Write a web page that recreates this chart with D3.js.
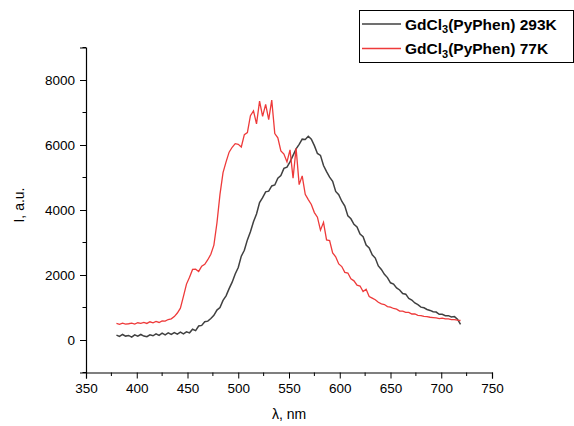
<!DOCTYPE html>
<html>
<head>
<meta charset="utf-8">
<script src="https://cdn.jsdelivr.net/npm/d3@7"></script>
<style>
  body { margin: 0; background: #fff; }
  text { font-family: Arial, "Liberation Sans", sans-serif; }
</style>
</head>
<body>
<svg id="chart" width="574" height="426"></svg>
<script>
// sampling grid of the spectra, nm
const wavelength = d3.range(380, 722, 3)

// emission at 293 K
const intensity293 = [
  150, 110, 170, 120, 140, 90, 160, 120, 170, 120,
  100, 160, 130, 190, 140, 210, 160, 220, 170, 230,
  180, 240, 190, 250, 220, 330, 290, 430, 450, 560,
  580, 660, 760, 920, 1000, 1220, 1360, 1580, 1780, 2030,
  2230, 2580, 2760, 3080, 3330, 3640, 3880, 4230, 4380, 4560,
  4580, 4740, 4770, 4980, 5060, 5280, 5320, 5480, 5680, 5880,
  6020, 6180, 6170, 6270, 6180, 5980, 5740, 5680, 5370, 5180,
  5010, 4880, 4570, 4470, 4270, 4120, 3820, 3730, 3560, 3480,
  3260, 3180, 2920, 2830, 2620, 2520, 2280, 2170, 2020, 1920,
  1760, 1720, 1600, 1540, 1430, 1410, 1280, 1230, 1140, 1090,
  1010, 990, 940, 910, 870, 860, 790, 790, 750, 750,
  710, 720, 640, 480
]

// emission at 77 K
const intensity77 = [
  510, 480, 520, 490, 500, 520, 490, 530, 510, 540,
  510, 560, 530, 570, 540, 590, 580, 630, 650, 720,
  830, 980, 1340, 1720, 1930, 2170, 2180, 2110, 2270, 2330,
  2470, 2640, 2920, 3600, 4480, 5150, 5480, 5780, 5930, 6040,
  6020, 5940, 6320, 6380, 6900, 7050, 6650, 7350, 6880, 7250,
  6780, 7380, 6350, 6220, 5820, 5720, 5480, 5850, 4980, 5900,
  4780, 5050, 4480, 4320, 4170, 3920, 3780, 3380, 3620, 3080,
  3060, 2680, 2560, 2340, 2260, 2080, 2060, 1880, 1820, 1690,
  1660, 1490, 1560, 1340, 1290, 1240, 1160, 1110, 1090, 1030,
  1010, 970, 950, 890, 890, 850, 850, 800, 800, 760,
  750, 730, 720, 700, 690, 680, 660, 670, 650, 650,
  630, 630, 610, 600
]

const xTicks = [350, 400, 450, 500, 550, 600, 650, 700, 750]
const yTicks = [0, 2000, 4000, 6000, 8000]
const seriesNames = ['293K', '77K']
const seriesColors = ['#404040', '#ee3a3a']

const svg = d3.select('#chart')
const x = d3.scaleLinear().domain([350, 750]).range([86, 492])
const y = d3.scaleLinear().domain([-1000, 9000]).range([372.5, 47.5])

// axes: outward ticks, minor ticks between majors
const xAxis = svg.append('g').attr('transform', 'translate(0,372.5)')
xAxis.call(d3.axisBottom(x).tickValues(xTicks).tickSize(6).tickPadding(5).tickFormat(d3.format('d')))
xAxis.selectAll('.minor')
  .data(d3.range(375, 750, 50))
  .enter().append('line')
  .attr('x1', d => x(d)).attr('x2', d => x(d))
  .attr('y1', 0).attr('y2', 3.5)
  .attr('stroke', '#000')

const yAxis = svg.append('g').attr('transform', 'translate(86,0)')
yAxis.call(d3.axisLeft(y).tickValues(yTicks).tickSize(6).tickPadding(5).tickFormat(d3.format('d')))
yAxis.selectAll('.minor')
  .data([-1000, 1000, 3000, 5000, 7000, 9000])
  .enter().append('line')
  .attr('y1', d => y(d)).attr('y2', d => y(d))
  .attr('x1', 0).attr('x2', -3.5)
  .attr('stroke', '#000')

svg.selectAll('.domain').attr('stroke', '#000').attr('stroke-width', 1.2)
svg.selectAll('.tick line').attr('stroke', '#000')
svg.selectAll('.tick text').attr('font-size', 13.5).attr('fill', '#000')
  .style('font-family', 'Arial, "Liberation Sans", sans-serif')

// axis titles
svg.append('text')
  .attr('x', x(550)).attr('y', 419)
  .attr('text-anchor', 'middle').attr('font-size', 14)
  .text('λ, nm')
svg.append('text')
  .attr('transform', 'translate(24,205) rotate(-90)')
  .attr('text-anchor', 'middle').attr('font-size', 14)
  .text('I, a.u.')

// spectra
const line = d3.line()
  .x((d, i) => x(wavelength[i]))
  .y(d => y(d))

svg.append('path')
  .datum(intensity293)
  .attr('d', line)
  .attr('fill', 'none')
  .attr('stroke', seriesColors[0])
  .attr('stroke-width', 1.5)

svg.append('path')
  .datum(intensity77)
  .attr('d', line)
  .attr('fill', 'none')
  .attr('stroke', seriesColors[1])
  .attr('stroke-width', 1.3)

// legend
const legend = svg.append('g')
legend.append('rect')
  .attr('x', 359.5).attr('y', 10.5).attr('width', 214).attr('height', 52)
  .attr('fill', '#fff').attr('stroke', '#000')

const rows = legend.selectAll('.row')
  .data(seriesNames)
  .enter().append('g')
  .attr('transform', (d, i) => `translate(0,${24 + i * 24.5})`)

rows.append('line')
  .attr('x1', 362).attr('x2', 401)
  .attr('stroke', (d, i) => seriesColors[i])
  .attr('stroke-width', 1.5)

const label = rows.append('text')
  .attr('x', 405).attr('y', 5.5)
  .attr('font-size', 15.5).attr('font-weight', 'bold')
label.append('tspan').text('GdCl')
label.append('tspan').attr('font-size', 11).attr('dy', 3.5).text('3')
label.append('tspan').attr('dy', -3.5).text(d => '(PyPhen) ' + d)
</script>
</body>
</html>
